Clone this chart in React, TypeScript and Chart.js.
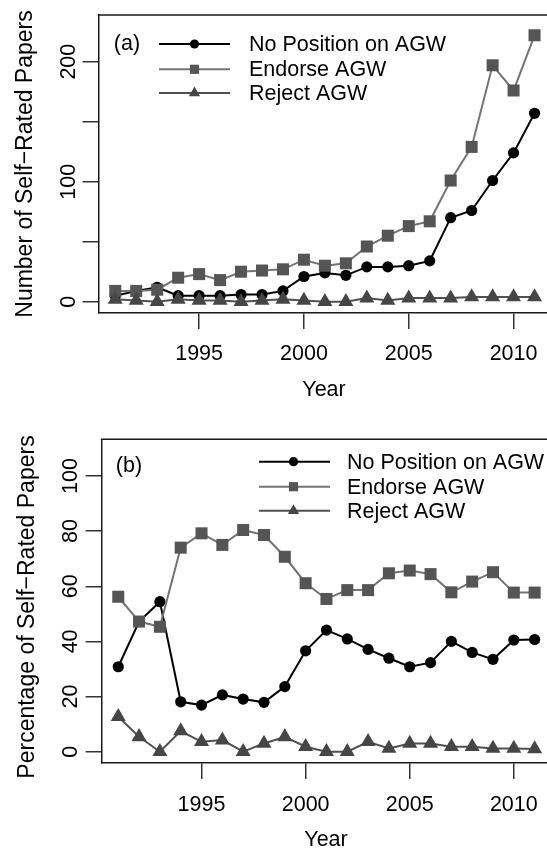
import React, { useEffect, useRef } from "react";
import { Chart, registerables } from "chart.js";

Chart.register(...registerables);

// ---------- data ----------
const years = [1991, 1992, 1993, 1994, 1995, 1996, 1997, 1998, 1999, 2000, 2001, 2002, 2003, 2004, 2005, 2006, 2007, 2008, 2009, 2010, 2011];

const seriesLabels = ["No Position on AGW", "Endorse AGW", "Reject AGW"];

// panel (a): number of self-rated papers
const noPositionCounts = [5, 9, 12, 5, 5, 5, 6, 6, 9, 21, 24, 22, 29, 29, 30, 34, 70, 76, 101, 124, 157];
const endorseCounts = [9, 9, 10, 20, 23, 18, 25, 26, 27, 35, 30, 32, 46, 55, 63, 67, 101, 129, 197, 176, 222];
const rejectCounts = [2, 1, 0, 2, 1, 1, 0, 1, 2, 1, 0, 0, 3, 1, 3, 3, 3, 4, 4, 4, 4];

// panel (b): percentage of self-rated papers
const noPositionPct = [30.8, 47.2, 54.4, 18.1, 16.9, 20.6, 19.1, 17.9, 23.6, 36.6, 44.1, 40.9, 37.1, 33.9, 30.8, 32.3, 40.0, 36.0, 33.5, 40.5, 40.7];
const endorsePct = [56.2, 47.2, 45.3, 74.0, 79.2, 75.0, 80.4, 78.6, 70.7, 61.1, 55.4, 58.6, 58.6, 64.7, 65.7, 64.4, 57.8, 61.7, 65.1, 57.7, 57.7];
const rejectPct = [12.7, 5.4, 0, 7.5, 3.6, 4.2, 0, 3.0, 5.4, 1.8, 0, 0, 3.6, 1.2, 3.0, 3.0, 1.8, 1.8, 1.2, 1.2, 1.0];

// ticks
const xTickValues = [1995, 2000, 2005, 2010];
const xTickLabels = ["1995", "2000", "2005", "2010"];
const yTicksA = [0, 50, 100, 150, 200];
const yLabelValuesA = [0, 100, 200];
const yLabelsA = ["0", "100", "200"];
const yTicksB = [0, 20, 40, 60, 80, 100];
const yLabelValuesB = [0, 20, 40, 60, 80, 100];
const yLabelsB = ["0", "20", "40", "60", "80", "100"];

// ---------- styles ----------
const FONT = "'Liberation Sans', Arial, Helvetica, sans-serif";
const CANVAS_W = 560;
const NP_COLOR = "#000000";
const EN_FILL = "#555555";
const EN_LINE = "#737373";
const RE_FILL = "#464646";
const RE_LINE = "#505050";
const BOX_COLOR = "#1a1a1a";

type PanelCfg = {
  height: number;
  values: number[][];
  yMin: number;
  yMax: number;
  yTicks: number[];
  yLabelValues: number[];
  yLabels: string[];
  yTitle: string;
  panelLabel: string;
  left: number;
  right: number;
  top: number;
  bottom: number;
  yLabelBaselineX: number;
  yTitleBaselineX: number;
  yTitleCenterY: number;
  xLabelBaselineY: number;
  xTitleBaselineY: number;
  xTitleX: number;
  panelLabelX: number;
  panelLabelY: number;
  legendRows: number[];
  legendLineX1: number;
  legendLineX2: number;
  legendMarkerX: number;
  legendTextX: number;
};

const panelA: PanelCfg = {
  height: 400,
  values: [noPositionCounts, endorseCounts, rejectCounts],
  yMin: -9.4,
  yMax: 238.9,
  yTicks: yTicksA,
  yLabelValues: yLabelValuesA,
  yLabels: yLabelsA,
  yTitle: "Number of Self\u2212Rated Papers",
  panelLabel: "(a)",
  left: 98.5,
  right: 553.2,
  top: 15,
  bottom: 313,
  yLabelBaselineX: 75,
  yTitleBaselineX: 32,
  yTitleCenterY: 164,
  xLabelBaselineY: 360,
  xTitleBaselineY: 396,
  xTitleX: 324,
  panelLabelX: 127,
  panelLabelY: 44,
  legendRows: [44, 69.3, 93],
  legendLineX1: 159,
  legendLineX2: 230,
  legendMarkerX: 194.5,
  legendTextX: 249,
};

const panelB: PanelCfg = {
  height: 448,
  values: [noPositionPct, endorsePct, rejectPct],
  yMin: -4.1,
  yMax: 113.3,
  yTicks: yTicksB,
  yLabelValues: yLabelValuesB,
  yLabels: yLabelsB,
  yTitle: "Percentage of Self\u2212Rated Papers",
  panelLabel: "(b)",
  left: 101.6,
  right: 556.7,
  top: 39.3,
  bottom: 363,
  yLabelBaselineX: 77,
  yTitleBaselineX: 33.5,
  yTitleCenterY: 207,
  xLabelBaselineY: 410.5,
  xTitleBaselineY: 446,
  xTitleX: 326,
  panelLabelX: 129,
  panelLabelY: 466,
  legendRows: [461.7, 486.7, 510.7],
  legendLineX1: 259,
  legendLineX2: 330,
  legendMarkerX: 293.5,
  legendTextX: 347,
};

function drawMarker(ctx: CanvasRenderingContext2D, style: string, x: number, y: number, r: number, color: string) {
  ctx.fillStyle = color;
  ctx.beginPath();
  if (style === "circle") {
    ctx.arc(x, y, r, 0, Math.PI * 2);
  } else if (style === "rect") {
    const s = r * Math.SQRT1_2;
    ctx.rect(x - s, y - s, 2 * s, 2 * s);
  } else {
    const a = (2 * Math.PI) / 3;
    ctx.moveTo(x, y - r);
    ctx.lineTo(x + Math.sin(a) * r, y - Math.cos(a) * r);
    ctx.lineTo(x + Math.sin(2 * a) * r, y - Math.cos(2 * a) * r);
    ctx.closePath();
  }
  ctx.fill();
}

function makeDecorPlugin(p: PanelCfg, legendPageOffset: number) {
  return {
    id: "panelDecor",
    afterDraw(chart: any) {
      const ctx: CanvasRenderingContext2D = chart.ctx;
      const { left, right, top } = chart.chartArea;
      const xs = chart.scales.x;
      const ys = chart.scales.y;
      ctx.save();
      // top edge of the box
      ctx.strokeStyle = BOX_COLOR;
      ctx.lineWidth = 1.5;
      ctx.beginPath();
      ctx.moveTo(left - 0.75, top);
      ctx.lineTo(right + 10, top);
      ctx.stroke();

      ctx.fillStyle = "#000";
      ctx.font = `21.5px ${FONT}`;
      ctx.textBaseline = "alphabetic";
      ctx.textAlign = "center";
      // x tick labels
      xTickValues.forEach((v, i) => {
        ctx.fillText(xTickLabels[i], xs.getPixelForValue(v), p.xLabelBaselineY);
      });
      // x title
      ctx.fillText("Year", p.xTitleX, p.xTitleBaselineY);
      // y tick labels (rotated)
      p.yLabelValues.forEach((v, i) => {
        ctx.save();
        ctx.translate(p.yLabelBaselineX, ys.getPixelForValue(v));
        ctx.rotate(-Math.PI / 2);
        ctx.fillText(p.yLabels[i], 0, 0);
        ctx.restore();
      });
      // y title
      ctx.save();
      ctx.font = `23px ${FONT}`;
      ctx.translate(p.yTitleBaselineX, p.yTitleCenterY);
      ctx.rotate(-Math.PI / 2);
      ctx.fillText(p.yTitle, 0, 0);
      ctx.restore();

      // panel label
      ctx.textBaseline = "middle";
      ctx.fillText(p.panelLabel, p.panelLabelX, p.panelLabelY - legendPageOffset);

      // legend
      const dsets = chart.data.datasets;
      [0, 1, 2].forEach((idx, row) => {
        const d = dsets.find((q: any) => q.seriesIndex === idx);
        const y = p.legendRows[row] - legendPageOffset;
        ctx.strokeStyle = d.borderColor;
        ctx.lineWidth = 2;
        ctx.beginPath();
        ctx.moveTo(p.legendLineX1, y);
        ctx.lineTo(p.legendLineX2, y);
        ctx.stroke();
        drawMarker(ctx, d.pointStyle, p.legendMarkerX, y, d.legendRadius, d.pointBackgroundColor);
        ctx.fillStyle = "#000";
        ctx.textAlign = "left";
        ctx.fillText(d.label, p.legendTextX, y + 1);
      });
      ctx.restore();
    },
  };
}

function Panel({ cfg, pageTop }: { cfg: PanelCfg; pageTop: number }) {
  const ref = useRef<HTMLCanvasElement | null>(null);
  useEffect(() => {
    if (!ref.current) return;
    const styles = [
      { color: NP_COLOR, line: NP_COLOR, style: "circle", r: 5.6, lr: 4.6, order: 3 },
      { color: EN_FILL, line: EN_LINE, style: "rect", r: 8.5, lr: 6.5, order: 2 },
      { color: RE_FILL, line: RE_LINE, style: "triangle", r: 8.7, lr: 6.5, order: 1 },
    ];
    const datasets = cfg.values.map((vals, i) => ({
      label: seriesLabels[i],
      seriesIndex: i,
      legendRadius: styles[i].lr,
      data: years.map((x, j) => ({ x, y: vals[j] })),
      borderColor: styles[i].line,
      backgroundColor: styles[i].color,
      pointBackgroundColor: styles[i].color,
      pointBorderColor: styles[i].color,
      pointBorderWidth: 0,
      pointStyle: styles[i].style,
      pointRadius: styles[i].r,
      borderWidth: 2,
      tension: 0,
      order: styles[i].order,
      clip: false,
    }));
    const xHeight = cfg.height - cfg.bottom;
    const chart = new Chart(ref.current, {
      type: "line",
      data: { datasets: datasets as any },
      options: {
        animation: false,
        responsive: false,
        maintainAspectRatio: false,
        devicePixelRatio: 1,
        events: [],
        layout: { padding: { top: cfg.top, right: CANVAS_W - cfg.right, bottom: 0, left: 0 } },
        plugins: { legend: { display: false }, tooltip: { enabled: false }, title: { display: false } },
        scales: {
          x: {
            type: "linear",
            min: 1990.2,
            max: 2011.8,
            afterBuildTicks: (s: any) => {
              s.ticks = xTickValues.map((v) => ({ value: v }));
            },
            afterFit: (s: any) => {
              s.height = xHeight;
            },
            ticks: { display: false },
            grid: { drawOnChartArea: false, drawTicks: true, tickLength: 16, color: "#333", lineWidth: 1.5 },
            border: { display: true, color: BOX_COLOR, width: 1.5 },
          },
          y: {
            type: "linear",
            min: cfg.yMin,
            max: cfg.yMax,
            afterBuildTicks: (s: any) => {
              s.ticks = cfg.yTicks.map((v) => ({ value: v }));
            },
            afterFit: (s: any) => {
              s.width = cfg.left;
            },
            ticks: { display: false },
            grid: { drawOnChartArea: false, drawTicks: true, tickLength: 16, color: "#333", lineWidth: 1.5 },
            border: { display: true, color: BOX_COLOR, width: 1.5 },
          },
        },
      },
      plugins: [makeDecorPlugin(cfg, pageTop)],
    });
    return () => chart.destroy();
  }, [cfg, pageTop]);
  return (
    <canvas
      ref={ref}
      width={CANVAS_W}
      height={cfg.height}
      style={{ display: "block", width: CANVAS_W, height: cfg.height }}
    />
  );
}

export default function App() {
  return (
    <div
      style={{
        position: "absolute",
        left: 0,
        top: 0,
        width: 547,
        height: 848,
        overflow: "hidden",
        background: "#fff",
      }}
    >
      <Panel cfg={panelA} pageTop={0} />
      <Panel cfg={panelB} pageTop={400} />
    </div>
  );
}
